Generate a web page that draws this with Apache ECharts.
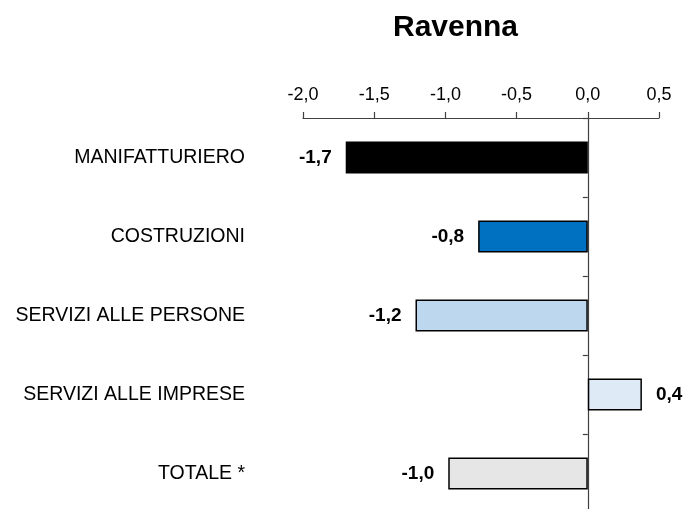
<!DOCTYPE html>
<html>
<head>
<meta charset="utf-8">
<script src="https://cdn.jsdelivr.net/npm/echarts@6/dist/echarts.min.js"></script>
<style>html,body{margin:0;padding:0;background:#fff;}#c{width:686px;height:509px;}</style>
</head>
<body>
<div id="c"></div>
<script>
const categories = ['MANIFATTURIERO', 'COSTRUZIONI', 'SERVIZI ALLE PERSONE', 'SERVIZI ALLE IMPRESE', 'TOTALE *'];
const values = [-1.7, -0.77, -1.21, 0.38, -0.98];
const xTicks = [-2.0, -1.5, -1.0, -0.5, 0.0, 0.5];
const barColors = ['#000000', '#0070c0', '#bdd7ee', '#deebf7', '#e6e6e6'];

const FONT = 'Liberation Sans, Arial, sans-serif';
const fmt = v => v.toFixed(1).replace('.', ',');
const chart = echarts.init(document.getElementById('c'), null, {renderer: 'canvas'});
chart.setOption({
  animation: false,
  backgroundColor: '#ffffff',
  title: {
    text: 'Ravenna',
    left: 388, top: 8,
    textStyle: {fontFamily: FONT, fontWeight: 'bold', fontSize: 30, color: '#000'}
  },
  grid: {left: 303, right: 27, top: 118, height: 395, containLabel: false, outerBoundsMode: 'none'},
  xAxis: {
    type: 'value', position: 'top',
    min: xTicks[0], max: xTicks[xTicks.length - 1], interval: 0.5,
    axisLine: {show: true, lineStyle: {color: '#404040', width: 1.2}},
    axisTick: {show: true, length: 6, lineStyle: {color: '#404040', width: 1.2}},
    splitLine: {show: false},
    axisLabel: {
      formatter: fmt, margin: 14, color: '#000',
      fontFamily: FONT, fontSize: 18
    }
  },
  yAxis: [{
    type: 'category', inverse: true, data: categories,
    axisLine: {show: true, onZero: true, lineStyle: {color: '#404040', width: 1.2}},
    axisTick: {show: true, length: 5, lineStyle: {color: '#404040', width: 1.2}},
    axisLabel: {show: false}
  }, {
    type: 'category', inverse: true, data: categories, position: 'left',
    axisLine: {show: false, onZero: false},
    axisTick: {show: false},
    axisLabel: {
      show: true, margin: 58, color: '#000', align: 'right',
      fontFamily: FONT, fontSize: 19.5
    }
  }],
  series: [{
    type: 'bar',
    yAxisIndex: 0,
    barWidth: 32,
    data: values.map((v, i) => ({
      value: v,
      itemStyle: {color: barColors[i], borderColor: '#000', borderWidth: 1.5},
      label: {show: true, position: v < 0 ? 'left' : 'right', distance: 14}
    })),
    label: {
      formatter: p => fmt(p.value), color: '#000', fontWeight: 'bold',
      fontFamily: FONT, fontSize: 19
    }
  }]
});
</script>
</body>
</html>
